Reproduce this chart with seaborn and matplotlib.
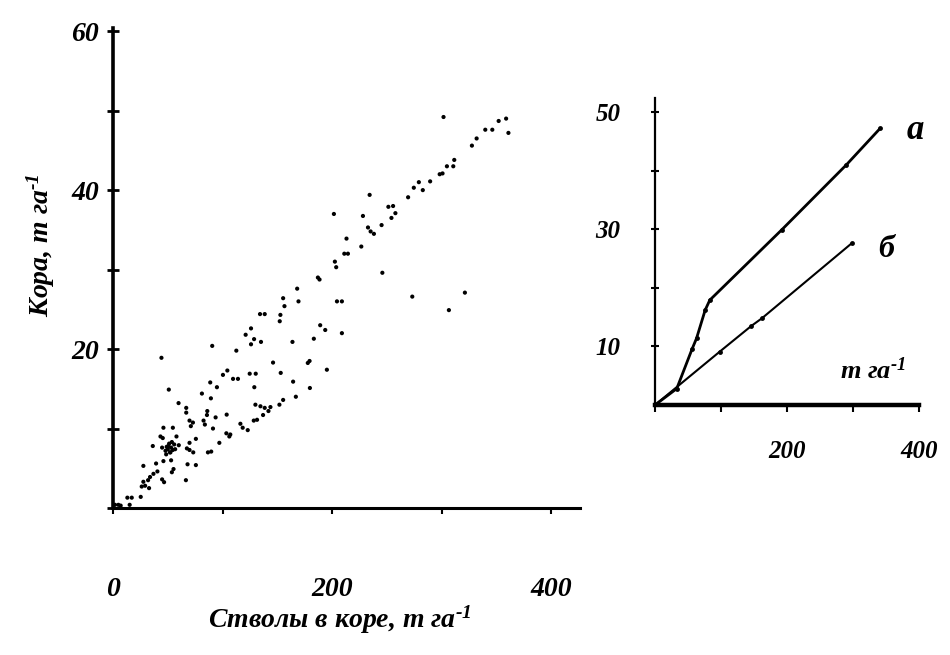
import matplotlib
matplotlib.use('Agg')
import matplotlib.pyplot as plt
import seaborn as sns
import pandas as pd

# ---- data ----
stem_x = [301.5, 358.6, 351.8, 360.7, 346.0, 339.6, 331.7, 327.4, 311.3, 310.4, 304.6, 300.6, 298.0,
          289.3, 279.0, 274.4, 282.6, 269.2, 234.1, 255.5, 251.2, 257.6, 254.0, 228.0, 201.5, 245.0,
          232.6, 235.0, 238.0, 213.0, 214.3, 211.0, 226.5, 202.4, 203.6, 245.7, 186.9, 188.4, 273.0,
          321.0, 306.4, 168.0, 155.2, 169.2, 204.3, 208.8, 156.4, 134.1, 138.4, 152.7, 152.1, 189.0,
          193.6, 208.8, 125.9, 121.0, 128.7, 135.0, 125.9, 163.7, 183.2, 90.5, 112.5, 44.2, 146.0,
          179.3, 177.7, 104.3, 100.3, 124.7, 130.2, 153.0, 195.1, 88.7, 94.8, 109.5, 114.0, 128.9,
          164.3, 179.6, 50.9, 81.1, 89.3, 166.8, 155.2, 151.8, 129.9, 134.5, 138.4, 143.6, 141.8,
          136.9, 131.4, 128.4, 59.8, 66.8, 66.8, 86.0, 85.7, 93.6, 103.7, 69.8, 72.9, 71.0, 82.6,
          83.8, 91.2, 116.2, 118.3, 122.9, 103.4, 106.1, 107.0, 97.0, 89.6, 86.6, 46.0, 54.6, 43.3,
          45.4, 57.9, 36.3, 44.8, 51.2, 53.7, 55.8, 60.0, 50.0, 47.9, 52.4, 48.5, 53.0, 56.7, 69.8,
          75.6, 67.4, 69.8, 73.2, 68.0, 75.6, 46.0, 53.0, 39.3, 27.7, 40.5, 55.2, 53.7, 36.9, 33.8,
          32.0, 44.8, 46.6, 66.5, 27.7, 26.2, 29.3, 32.9, 25.3, 13.1, 17.1, 15.2, 4.9, 7.0, 1.8,
          50.5, 52.0, 49.0, 54.5]
bark_y = [49.2, 49.0, 48.7, 47.2, 47.6, 47.6, 46.5, 45.6, 43.8, 43.0, 43.0, 42.1, 42.0,
          41.1, 41.0, 40.3, 40.0, 39.1, 39.4, 38.0, 37.9, 37.1, 36.5, 36.75, 37.0, 35.6,
          35.3, 34.8, 34.5, 33.9, 32.0, 32.0, 32.9, 31.0, 30.3, 29.6, 29.0, 28.75, 26.6,
          27.1, 24.9, 27.6, 26.4, 26.0, 26.0, 26.0, 25.4, 24.4, 24.4, 24.3, 23.5, 23.0,
          22.4, 22.0, 22.6, 21.8, 21.25, 20.9, 20.6, 20.9, 21.3, 20.4, 19.8, 18.9, 18.3,
          18.5, 18.25, 17.3, 16.75, 16.9, 16.9, 17.0, 17.4, 15.8, 15.2, 16.25, 16.25, 15.2,
          15.9, 15.1, 14.9, 14.4, 13.8, 14.0, 13.6, 13.0, 13.0, 12.8, 12.6, 12.7, 12.2,
          11.7, 11.1, 11.0, 13.2, 12.6, 12.0, 12.2, 11.7, 11.4, 11.75, 11.0, 10.75, 10.3, 11.0,
          10.5, 10.0, 10.6, 10.1, 9.8, 9.4, 9.0, 9.25, 8.2, 7.1, 7.0, 10.1, 10.1, 9.0,
          8.8, 9.0, 7.8, 7.6, 8.1, 8.3, 8.0, 7.9, 7.4, 7.2, 7.0, 6.75, 7.6, 7.4, 8.2,
          8.7, 7.5, 7.3, 7.0, 5.5, 5.4, 5.9, 6.0, 5.6, 5.3, 4.6, 4.9, 4.5, 4.3, 3.9,
          3.5, 3.6, 3.25, 3.5, 3.3, 2.7, 2.8, 2.5, 1.4, 1.3, 1.3, 0.4, 0.4, 0.3, 0.4,
          7.8, 7.0, 7.7, 7.3]

line_a_x = [0, 33, 56, 63, 76, 83, 192, 290, 341]
line_a_y = [0, 2.8, 9.5, 11.4, 16.2, 17.9, 29.9, 41.0, 47.2]
line_b_x = [0, 98, 146, 162, 298]
line_b_y = [0, 9.1, 13.5, 14.8, 27.6]

main_xticks = [0, 100, 200, 300, 400]
main_xlabels = ['0', '', '200', '', '400']
main_yticks = [0, 10, 20, 30, 40, 50, 60]
main_ylabels = ['', '', '20', '', '40', '', '60']
inset_xticks = [0, 100, 200, 300, 400]
inset_xlabels = ['', '', '200', '', '400']
inset_yticks = [10, 20, 30, 40, 50]
inset_ylabels = ['10', '', '30', '', '50']

main_xlabel = r'Стволы в коре, т га$^{\text{-}1}$'
main_ylabel = r'Кора, т га$^{\text{-}1}$'
inset_unit = r'т га$^{\text{-}1}$'
label_a = 'а'
label_b = 'б'

# ---- style ----
sns.set_style('ticks')
plt.rcParams['font.family'] = ['Liberation Serif', 'DejaVu Serif']
plt.rcParams['font.weight'] = 'bold'
plt.rcParams['font.style'] = 'italic'
plt.rcParams['text.color'] = 'black'
plt.rcParams['axes.labelcolor'] = 'black'
plt.rcParams['xtick.color'] = 'black'
plt.rcParams['ytick.color'] = 'black'
plt.rcParams['mathtext.fontset'] = 'custom'
plt.rcParams['mathtext.rm'] = 'Liberation Serif:italic:bold'
plt.rcParams['mathtext.it'] = 'Liberation Serif:italic:bold'
plt.rcParams['mathtext.bf'] = 'Liberation Serif:italic:bold'

fig = plt.figure(figsize=(9.5, 6.55), dpi=100)
fs = dict(family=['Liberation Serif', 'DejaVu Serif'], weight='bold', style='italic', color='black')

# ---- main scatter ----
ax = fig.add_axes([113/950, 1-508/655, 467/950, 480/655])
df = pd.DataFrame({'x': stem_x, 'y': bark_y})
sns.scatterplot(data=df, x='x', y='y', ax=ax, color='black', s=9, edgecolor='none', linewidth=0)
ax.set_xlim(0, 426)
ax.set_ylim(0, 60.4)
for s in ['top', 'right']:
    ax.spines[s].set_visible(False)
ax.spines['left'].set_linewidth(2.6)
ax.spines['bottom'].set_linewidth(2.2)
ax.spines['left'].set_color('black')
ax.spines['bottom'].set_color('black')
ax.set_xticks(main_xticks)
ax.set_xticklabels(main_xlabels, fontsize=20, **fs)
ax.set_yticks(main_yticks)
ax.set_yticklabels(main_ylabels, fontsize=20, **fs)
ax.tick_params(axis='x', direction='out', length=4, width=1.5, pad=46, colors='black')
ax.tick_params(axis='y', direction='inout', length=8, width=2, pad=6, colors='black')
ax.set_xlabel(main_xlabel, fontsize=20, **fs)
ax.set_ylabel(main_ylabel, fontsize=20, **fs)
ax.xaxis.set_label_coords(0.486, -0.2)
ax.yaxis.set_label_coords(-0.12, 0.548)

# ---- inset ----
ax2 = fig.add_axes([655/950, 1-405/655, 264/950, 307/655])
sns.lineplot(x=line_a_x, y=line_a_y, ax=ax2, color='black', linewidth=2.0, sort=False,
             estimator=None, marker='o', markersize=3.5, markeredgewidth=0)
sns.lineplot(x=line_b_x, y=line_b_y, ax=ax2, color='black', linewidth=1.5, sort=False,
             estimator=None, marker='o', markersize=3.5, markeredgewidth=0)
ax2.set_xlim(0, 400)
ax2.set_ylim(0, 52.4)
for s in ['top', 'right']:
    ax2.spines[s].set_visible(False)
ax2.spines['left'].set_linewidth(1.6)
ax2.spines['bottom'].set_linewidth(3.2)
ax2.spines['left'].set_color('black')
ax2.spines['bottom'].set_color('black')
ax2.set_xticks(inset_xticks)
ax2.set_xticklabels(inset_xlabels, fontsize=18, **fs)
ax2.set_yticks(inset_yticks)
ax2.set_yticklabels(inset_ylabels, fontsize=18, **fs)
ax2.tick_params(axis='x', direction='out', length=5, width=1.5, pad=20, colors='black')
ax2.tick_params(axis='y', direction='inout', length=6, width=1.5, pad=22, colors='black')
ax2.text(394, 46.9, label_a, fontsize=25, ha='center', va='center', **fs)
ax2.text(351, 26.5, label_b, fontsize=23, ha='center', va='center', **fs)
ax2.text(330, 5.8, inset_unit, fontsize=19, ha='center', va='center', **fs)

fig.savefig('out.png', dpi=100, facecolor='white')
